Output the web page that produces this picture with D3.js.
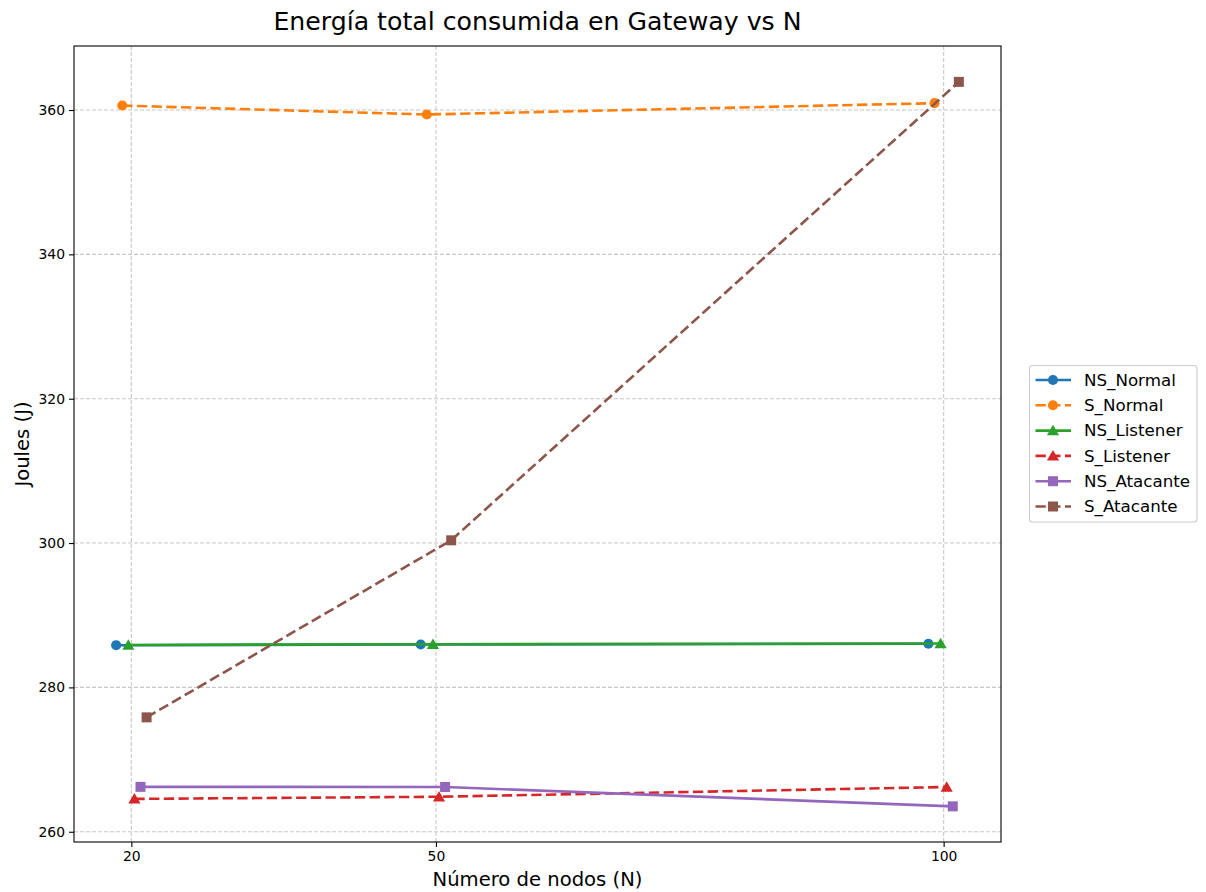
<!DOCTYPE html>
<html>
<head>
<meta charset="utf-8">
<script src="https://cdn.jsdelivr.net/npm/d3@7"></script>
<style>
  html, body { margin: 0; padding: 0; background: #fff; }
  #chart { width: 1206px; height: 892px; }
  text { font-family: "DejaVu Sans", sans-serif; fill: #000; }
</style>
</head>
<body>
<div id="chart"></div>
<script>
// Energía total consumida en Gateway vs N
// Six series, slightly jittered around each N so the markers don't overlap.

var nodes = [20, 50, 100];
var seriesNames = ['NS_Normal', 'S_Normal', 'NS_Listener', 'S_Listener', 'NS_Atacante', 'S_Atacante'];
var jitter = [-1.5, -0.9, -0.3, 0.3, 0.9, 1.5];

var nsNormal   = [285.85, 285.95, 286.05];
var sNormal    = [360.62, 359.38, 360.95];
var nsListener = [285.88, 285.98, 286.08];
var sListener  = [264.55, 264.85, 266.2];
var nsAtacante = [266.22, 266.2, 263.52];
var sAtacante  = [275.85, 300.38, 363.9];

var yTicks = [260, 280, 300, 320, 340, 360];
var xTicks = [20, 50, 100];

var colors  = ['#1f77b4', '#ff7f0e', '#2ca02c', '#d62728', '#9467bd', '#8c564b'];
var markers = ['circle', 'circle', 'triangle', 'triangle', 'square', 'square'];
var dashed  = [false, true, false, true, false, true];

(function () {
    var W = 1206, H = 892;
    var margin = { top: 46, right: 205, bottom: 50, left: 74 };
    var innerW = W - margin.left - margin.right;
    var innerH = H - margin.top - margin.bottom;

    var svg = d3.select('#chart').append('svg')
        .attr('width', W).attr('height', H)
        .attr('viewBox', '0 0 ' + W + ' ' + H);

    var x = d3.scaleLinear().domain([14.35, 105.65]).range([0, innerW]);
    var y = d3.scaleLinear().domain([258.58, 368.87]).range([innerH, 0]);

    var g = svg.append('g')
        .attr('transform', 'translate(' + margin.left + ',' + margin.top + ')');

    // grid
    g.append('g').selectAll('line').data(xTicks).enter().append('line')
        .attr('x1', function (d) { return x(d); }).attr('x2', function (d) { return x(d); })
        .attr('y1', 0).attr('y2', innerH)
        .attr('stroke', '#b0b0b0').attr('stroke-opacity', 0.7)
        .attr('stroke-width', 1.1).attr('stroke-dasharray', '4,2');
    g.append('g').selectAll('line').data(yTicks).enter().append('line')
        .attr('x1', 0).attr('x2', innerW)
        .attr('y1', function (d) { return y(d); }).attr('y2', function (d) { return y(d); })
        .attr('stroke', '#b0b0b0').attr('stroke-opacity', 0.7)
        .attr('stroke-width', 1.1).attr('stroke-dasharray', '4,2');

    var all = [nsNormal, sNormal, nsListener, sListener, nsAtacante, sAtacante];

    var symbolSize = { circle: 80, triangle: 64, square: 100 };
    function symbolPath(kind) {
        var t = kind === 'circle' ? d3.symbolCircle : kind === 'triangle' ? d3.symbolTriangle : d3.symbolSquare;
        return d3.symbol().type(t).size(symbolSize[kind])();
    }

    var line = d3.line()
        .x(function (d) { return x(d.n); })
        .y(function (d) { return y(d.v); });

    all.forEach(function (vals, s) {
        var pts = vals.map(function (v, i) { return { n: nodes[i] + jitter[s], v: v }; });
        var sg = g.append('g');
        sg.append('path')
            .datum(pts)
            .attr('fill', 'none')
            .attr('stroke', colors[s])
            .attr('stroke-width', 2.6)
            .attr('stroke-dasharray', dashed[s] ? '10.3,4.4' : null)
            .attr('d', line);
        sg.selectAll('path.mk').data(pts).enter().append('path')
            .attr('class', 'mk')
            .attr('d', symbolPath(markers[s]))
            .attr('fill', colors[s])
            .attr('transform', function (d) {
                var dy = markers[s] === 'triangle' ? 1.2 : 0;
                return 'translate(' + x(d.n) + ',' + (y(d.v) + dy) + ')';
            });
    });

    // spines
    g.append('rect')
        .attr('x', 0).attr('y', 0).attr('width', innerW).attr('height', innerH)
        .attr('fill', 'none').attr('stroke', '#000').attr('stroke-width', 1.1);

    // axes
    var xAxis = g.append('g')
        .attr('transform', 'translate(0,' + innerH + ')')
        .call(d3.axisBottom(x).tickValues(xTicks).tickSize(5).tickPadding(4));
    var yAxis = g.append('g')
        .call(d3.axisLeft(y).tickValues(yTicks).tickSize(5).tickPadding(4));
    [xAxis, yAxis].forEach(function (a) {
        a.select('.domain').remove();
        a.selectAll('.tick line').attr('stroke', '#000').attr('stroke-width', 1.1);
        a.selectAll('.tick text')
            .attr('font-family', '"DejaVu Sans", sans-serif')
            .attr('font-size', 13.9).attr('fill', '#000');
    });

    // title and axis labels
    svg.append('text')
        .attr('x', margin.left + innerW / 2).attr('y', 29.5)
        .attr('text-anchor', 'middle').attr('font-size', 25.2)
        .text('Energía total consumida en Gateway vs N');
    svg.append('text')
        .attr('x', margin.left + innerW / 2).attr('y', 886)
        .attr('text-anchor', 'middle').attr('font-size', 19.6)
        .text('Número de nodos (N)');
    svg.append('text')
        .attr('transform', 'translate(29,' + (margin.top + innerH / 2) + ') rotate(-90)')
        .attr('text-anchor', 'middle').attr('font-size', 19.6)
        .text('Joules (J)');

    // legend
    var lg = svg.append('g').attr('transform', 'translate(1029.5,365.5)');
    lg.append('rect')
        .attr('width', 167.5).attr('height', 156.5).attr('rx', 3)
        .attr('fill', '#fff').attr('fill-opacity', 0.8)
        .attr('stroke', '#cccccc').attr('stroke-width', 1.1);
    seriesNames.forEach(function (name, s) {
        var row = lg.append('g').attr('transform', 'translate(0,' + (14.5 + s * 25.3) + ')');
        row.append('line')
            .attr('x1', 6).attr('x2', 41.5).attr('y1', 0).attr('y2', 0)
            .attr('stroke', colors[s]).attr('stroke-width', 2.6)
            .attr('stroke-dasharray', dashed[s] ? '10.3,4.4' : null);
        row.append('path')
            .attr('d', symbolPath(markers[s]))
            .attr('fill', colors[s])
            .attr('transform', 'translate(23.5,' + (markers[s] === 'triangle' ? 1.2 : 0) + ')');
        row.append('text')
            .attr('x', 54.5).attr('y', 5.8)
            .attr('font-size', 16.7)
            .text(name);
    });
})();
</script>
</body>
</html>
